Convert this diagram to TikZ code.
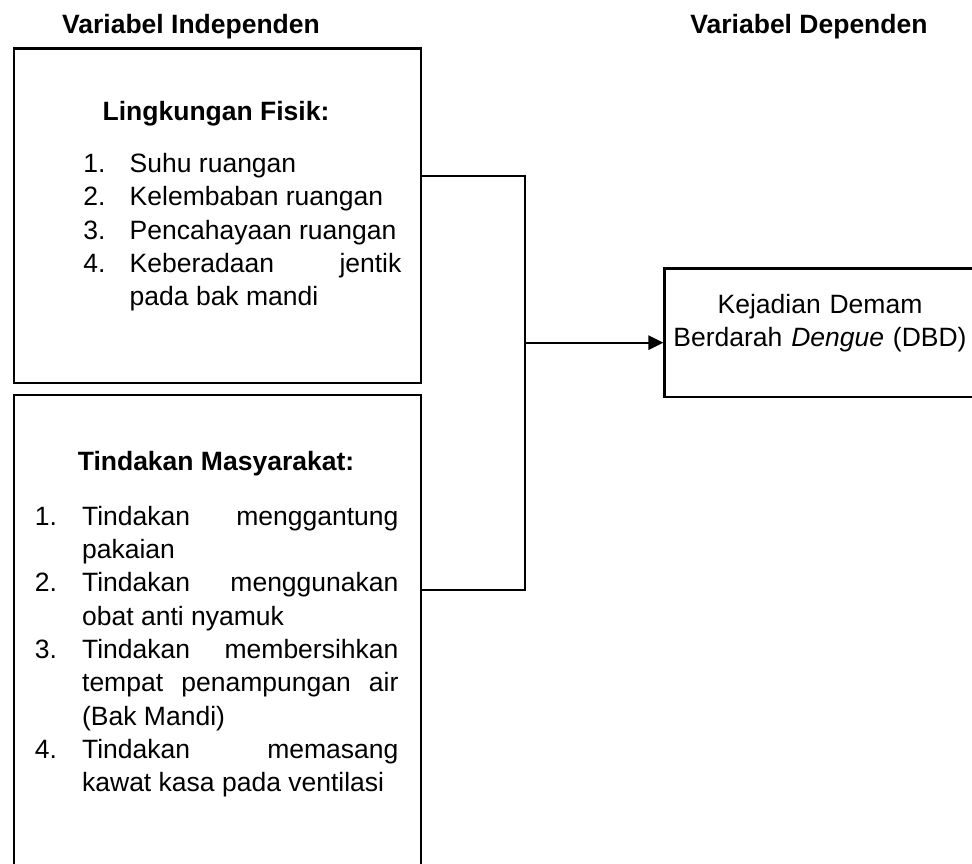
\documentclass[tikz,border=0pt]{standalone}
\usepackage{fontspec}
\setmainfont{Liberation Sans}
\usetikzlibrary{arrows.meta}

\newlength\px
\setlength\px{0.4528pt}
\newlength\lsind
\newcommand{\lsitem}[2]{\hangindent=\lsind\hangafter=1\noindent\makebox[\lsind][l]{#1}#2\par}
\hbadness=10000

\begin{document}
\begin{tikzpicture}[x=0.4528pt, y=-0.4528pt,
        box/.style={draw, line width=1pt, inner sep=0pt, anchor=north west},
        head/.style={font=\fontsize{12}{15.1}\selectfont\bfseries, anchor=base, inner sep=0pt},
        lst/.style={font=\fontsize{12}{15.1}\selectfont, anchor=base west, inner sep=0pt, align=justify},
        link/.style={line width=1pt}]
                \useasboundingbox (0,0) rectangle (972,863);
                \clip (0,0) rectangle (972,863);

                % Nodes
                \node[box, minimum width=406.8\px, minimum height=334.4\px] (fisik) at (12.7,47.3) {};
                \node[box, minimum width=406.8\px, minimum height=520\px] (tindakan) at (12.7,394) {};
                \node[box, minimum width=340\px, minimum height=128.4\px] (dbd) at (663.3,267.3) {};

                \node[head] (indep) at (191,33.3) {Variabel Independen};
                \node[head] (dep) at (809,33.3) {Variabel Dependen};
                \node[head] (fisikhead) at (216,120) {Lingkungan Fisik:};
                \node[head] (tindhead) at (216,470) {Tindakan Masyarakat:};

                \node[lst, text width=318\px] (fisiklist) at (83,172.5) {\setlength\lsind{46.3\px}%
                    \lsitem{1.}{Suhu ruangan}%
                    \lsitem{2.}{Kelembaban ruangan}%
                    \lsitem{3.}{Pencahayaan ruangan}%
                    \lsitem{4.}{Keberadaan jentik\linebreak pada bak mandi}};
                \node[lst, text width=363.5\px] (tindlist) at (34.5,525) {\setlength\lsind{47.2\px}%
                    \lsitem{1.}{Tindakan menggantung\linebreak pakaian}%
                    \lsitem{2.}{Tindakan menggunakan\linebreak obat anti nyamuk}%
                    \lsitem{3.}{Tindakan membersihkan\linebreak tempat penampungan air\linebreak (Bak Mandi)}%
                    \lsitem{4.}{Tindakan memasang\linebreak kawat kasa pada ventilasi}};
                \node[lst, align=center, anchor=base, text width=330\px] (dbdtext) at (820,313) {Kejadian Demam\\Berdarah \textit{Dengue} (DBD)};

                \coordinate (jn) at (525,342.7);

                % Edges
                \draw[link] (fisik.east |- 0,176) -| (jn) |- (tindakan.east |- 0,590);
                \draw[link, -{Triangle[length=6.8pt, width=6.5pt]}] (jn) -- (dbd.west |- jn);
            \end{tikzpicture}
\end{document}
